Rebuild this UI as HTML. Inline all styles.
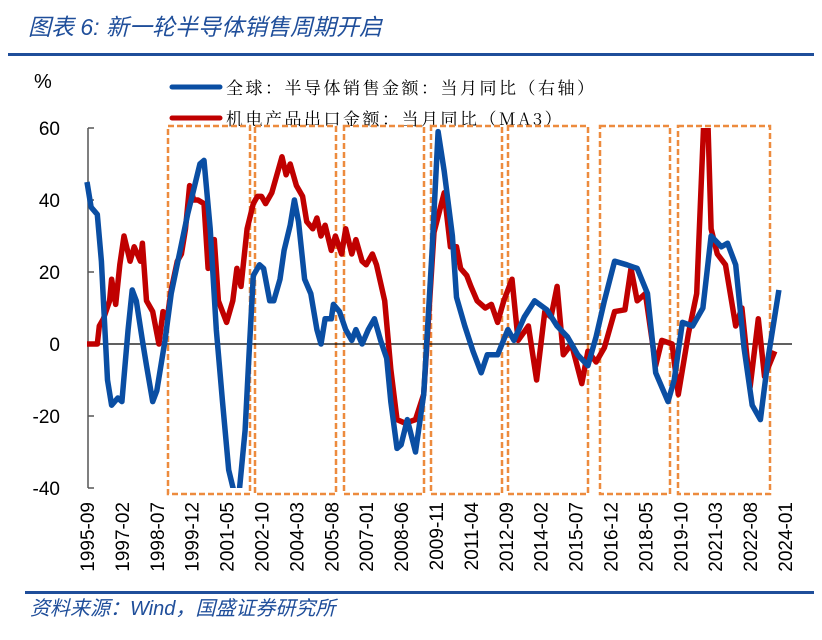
<!DOCTYPE html>
<html><head><meta charset="utf-8"><style>
body{margin:0;background:#fff;}
svg{display:block;}
</style></head><body>
<svg id="chart" width="822" height="640" font-family="Liberation Sans, Noto Sans CJK SC, sans-serif">
<text x="28" y="35" font-size="23" font-style="italic" fill="#1f4e9a" font-family="Liberation Sans, Noto Sans CJK SC, sans-serif">图表 6:  新一轮半导体销售周期开启</text>
<rect x="8" y="53" width="806" height="3" fill="#1f4e9a"/>
<text x="34" y="88" font-size="20" fill="#000">%</text>
<g id="legend">
<line x1="172" y1="87" x2="220" y2="87" stroke="#0a4ea3" stroke-width="5" stroke-linecap="round"/>
<text x="226" y="94" font-size="17" letter-spacing="2.5" font-family="Noto Serif CJK SC, serif">全球：半导体销售金额：当月同比（右轴）</text>
<line x1="172" y1="118" x2="220" y2="118" stroke="#c00000" stroke-width="5" stroke-linecap="round"/>
<text x="226" y="125" font-size="17" letter-spacing="2.5" font-family="Noto Serif CJK SC, serif">机电产品出口金额：当月同比（MA3）</text>
</g>
<defs><clipPath id="plotclip"><rect x="80" y="128" width="720" height="360"/></clipPath></defs>
<g id="boxes"></g>
<g id="axes"></g>
<g id="series" clip-path="url(#plotclip)"></g>
<g id="xlabels"></g>
<rect x="25" y="591" width="789" height="3" fill="#1f4e9a"/>
<text x="30" y="615" font-size="20" font-style="italic" fill="#1f4e9a">资料来源：Wind，国盛证券研究所</text>
</svg>
<script>
const yTicks=[60,40,20,0,-20,-40];
const xTickLabels=["1995-09","1997-02","1998-07","1999-12","2001-05","2002-10","2004-03","2005-08","2007-01","2008-06","2009-11","2011-04","2012-09","2014-02","2015-07","2016-12","2018-05","2019-10","2021-03","2022-08","2024-01"];
const semiMonths=[0,2,5,7,10,12,15,17,20,22,24,27,29,32,34,38,41,45,49,52,55,57,60,63,66,69,72,74,77,79,81,84,86,89,91,94,96,99,101,103,106,109,112,114,116,119,120,123,126,129,131,134,137,140,143,146,148,151,153,156,160,164,168,171,174,178,180,184,188,192,195,200,205,208,213,218,224,229,234,239,244,248,252,257,263,268,273,277,283,286,290,295,300,304,309,312,316,320,324,328,332,337];
const semiValues=[45,38,36,23,-10,-17,-15,-16,4,15,12,1,-6,-16,-13,1,14,25,36,43,50,51,32,4,-16,-35,-42,-42,-24,-2,19,22,21,12,12,18,26,33,40,34,18,14,4,0,7,7,11,9,4,1,4,0,4,7,1,-4,-16,-29,-28,-21,-30,-14,25,59,48,30,13,5,-2,-8,-3,-3,4,1,7.5,12,9.5,5,2,-3,-6,2,12,23,22,21,14,-8,-16,-10,6,5,10,30,27,28,22,-1,-17,-21,-3,15];
const expMonths=[0,2,5,6,8,11,12,14,16,18,21,23,26,27,29,32,35,37,39,41,44,46,48,50,52,54,57,59,62,64,68,71,73,75,78,81,83,85,87,90,93,95,97,99,102,105,107,110,112,114,116,119,121,124,126,129,131,134,136,139,141,145,148,151,155,160,164,169,174,177,180,182,185,187,190,194,197,200,203,207,210,215,219,223,226,229,232,236,241,244,248,252,257,262,265,268,272,277,280,285,288,293,297,301,302,304,307,311,316,319,323,327,330,335];
const expValues=[0,0,0,5,7,12,18,11,22,30,23,27,23,28,12,9,0,9,7,15,23,25,32,44,40,40,39,21,29,12,6,12,21,16,32,39,41,41,39,42,48,52,47,50,44,41,34,32,35,30,33,26,30,25,32,25,29,23,22,25,22,12,-7,-21,-22,-21,-14,31,42,27,27,21,19,16,12,10,11,6,12,18,1,5,-10,9,7.5,16,-3,0,-11,-2,-5,-1,9,9.5,21,12,14,-6,1,0,-14,3,14,70,70,32,25,22,5,10,-12,7,-9,-2];
const boxRanges=[[168,250],[255,336],[344,424],[431,502],[508,588],[600,670],[678,770]];
const NS="http://www.w3.org/2000/svg";
const xScale=m=>87+m*2.053;
const yScale=v=>344-v*3.6;
function mk(tag,attrs,parent){const e=document.createElementNS(NS,tag);for(const k in attrs)e.setAttribute(k,attrs[k]);parent.appendChild(e);return e;}
const axes=document.getElementById('axes');
let yaxis=mk('line',{x1:88,y1:yScale(60),x2:88,y2:yScale(-40),stroke:'#555','stroke-width':1.5},axes);


yTicks.forEach(v=>{
 const t=mk('line',{x1:88,y1:yScale(v),x2:94,y2:yScale(v),stroke:'#555','stroke-width':1.5},axes);
 
 
 const l=mk('text',{x:60,y:yScale(v)+7,'text-anchor':'end','font-size':19},axes);
 l.textContent=v;
 
 
});
const zl=mk('line',{x1:88,y1:yScale(0),x2:792,y2:yScale(0),stroke:'#000','stroke-width':1.2},axes);


const boxes=document.getElementById('boxes');
boxRanges.forEach(r=>{
 const b=mk('rect',{x:r[0],y:126,width:r[1]-r[0],height:368,fill:'none',stroke:'#ed8b3e','stroke-width':2.5,'stroke-dasharray':'6,3'},boxes);
 
 
});
const series=document.getElementById('series');
function line(ms,vs,color,name){
 const d=ms.map((m,i)=>(i?'L':'M')+xScale(m).toFixed(1)+','+yScale(vs[i]).toFixed(1)).join('');
 const p=mk('path',{d:d,fill:'none',stroke:color,'stroke-width':5.5,'stroke-linejoin':'round'},series);
 
 
}
line(expMonths,expValues,'#c00000','exports-line');
line(semiMonths,semiValues,'#0a4ea3','semiconductor-line');
const xl=document.getElementById('xlabels');
xTickLabels.forEach((s,i)=>{
 const x=xScale(i*17);
 const t=mk('text',{x:0,y:0,'font-size':19,'text-anchor':'end',transform:`translate(${x+7},502) rotate(-90)`},xl);
 t.textContent=s;
 
 
});
</script>
</body></html>
